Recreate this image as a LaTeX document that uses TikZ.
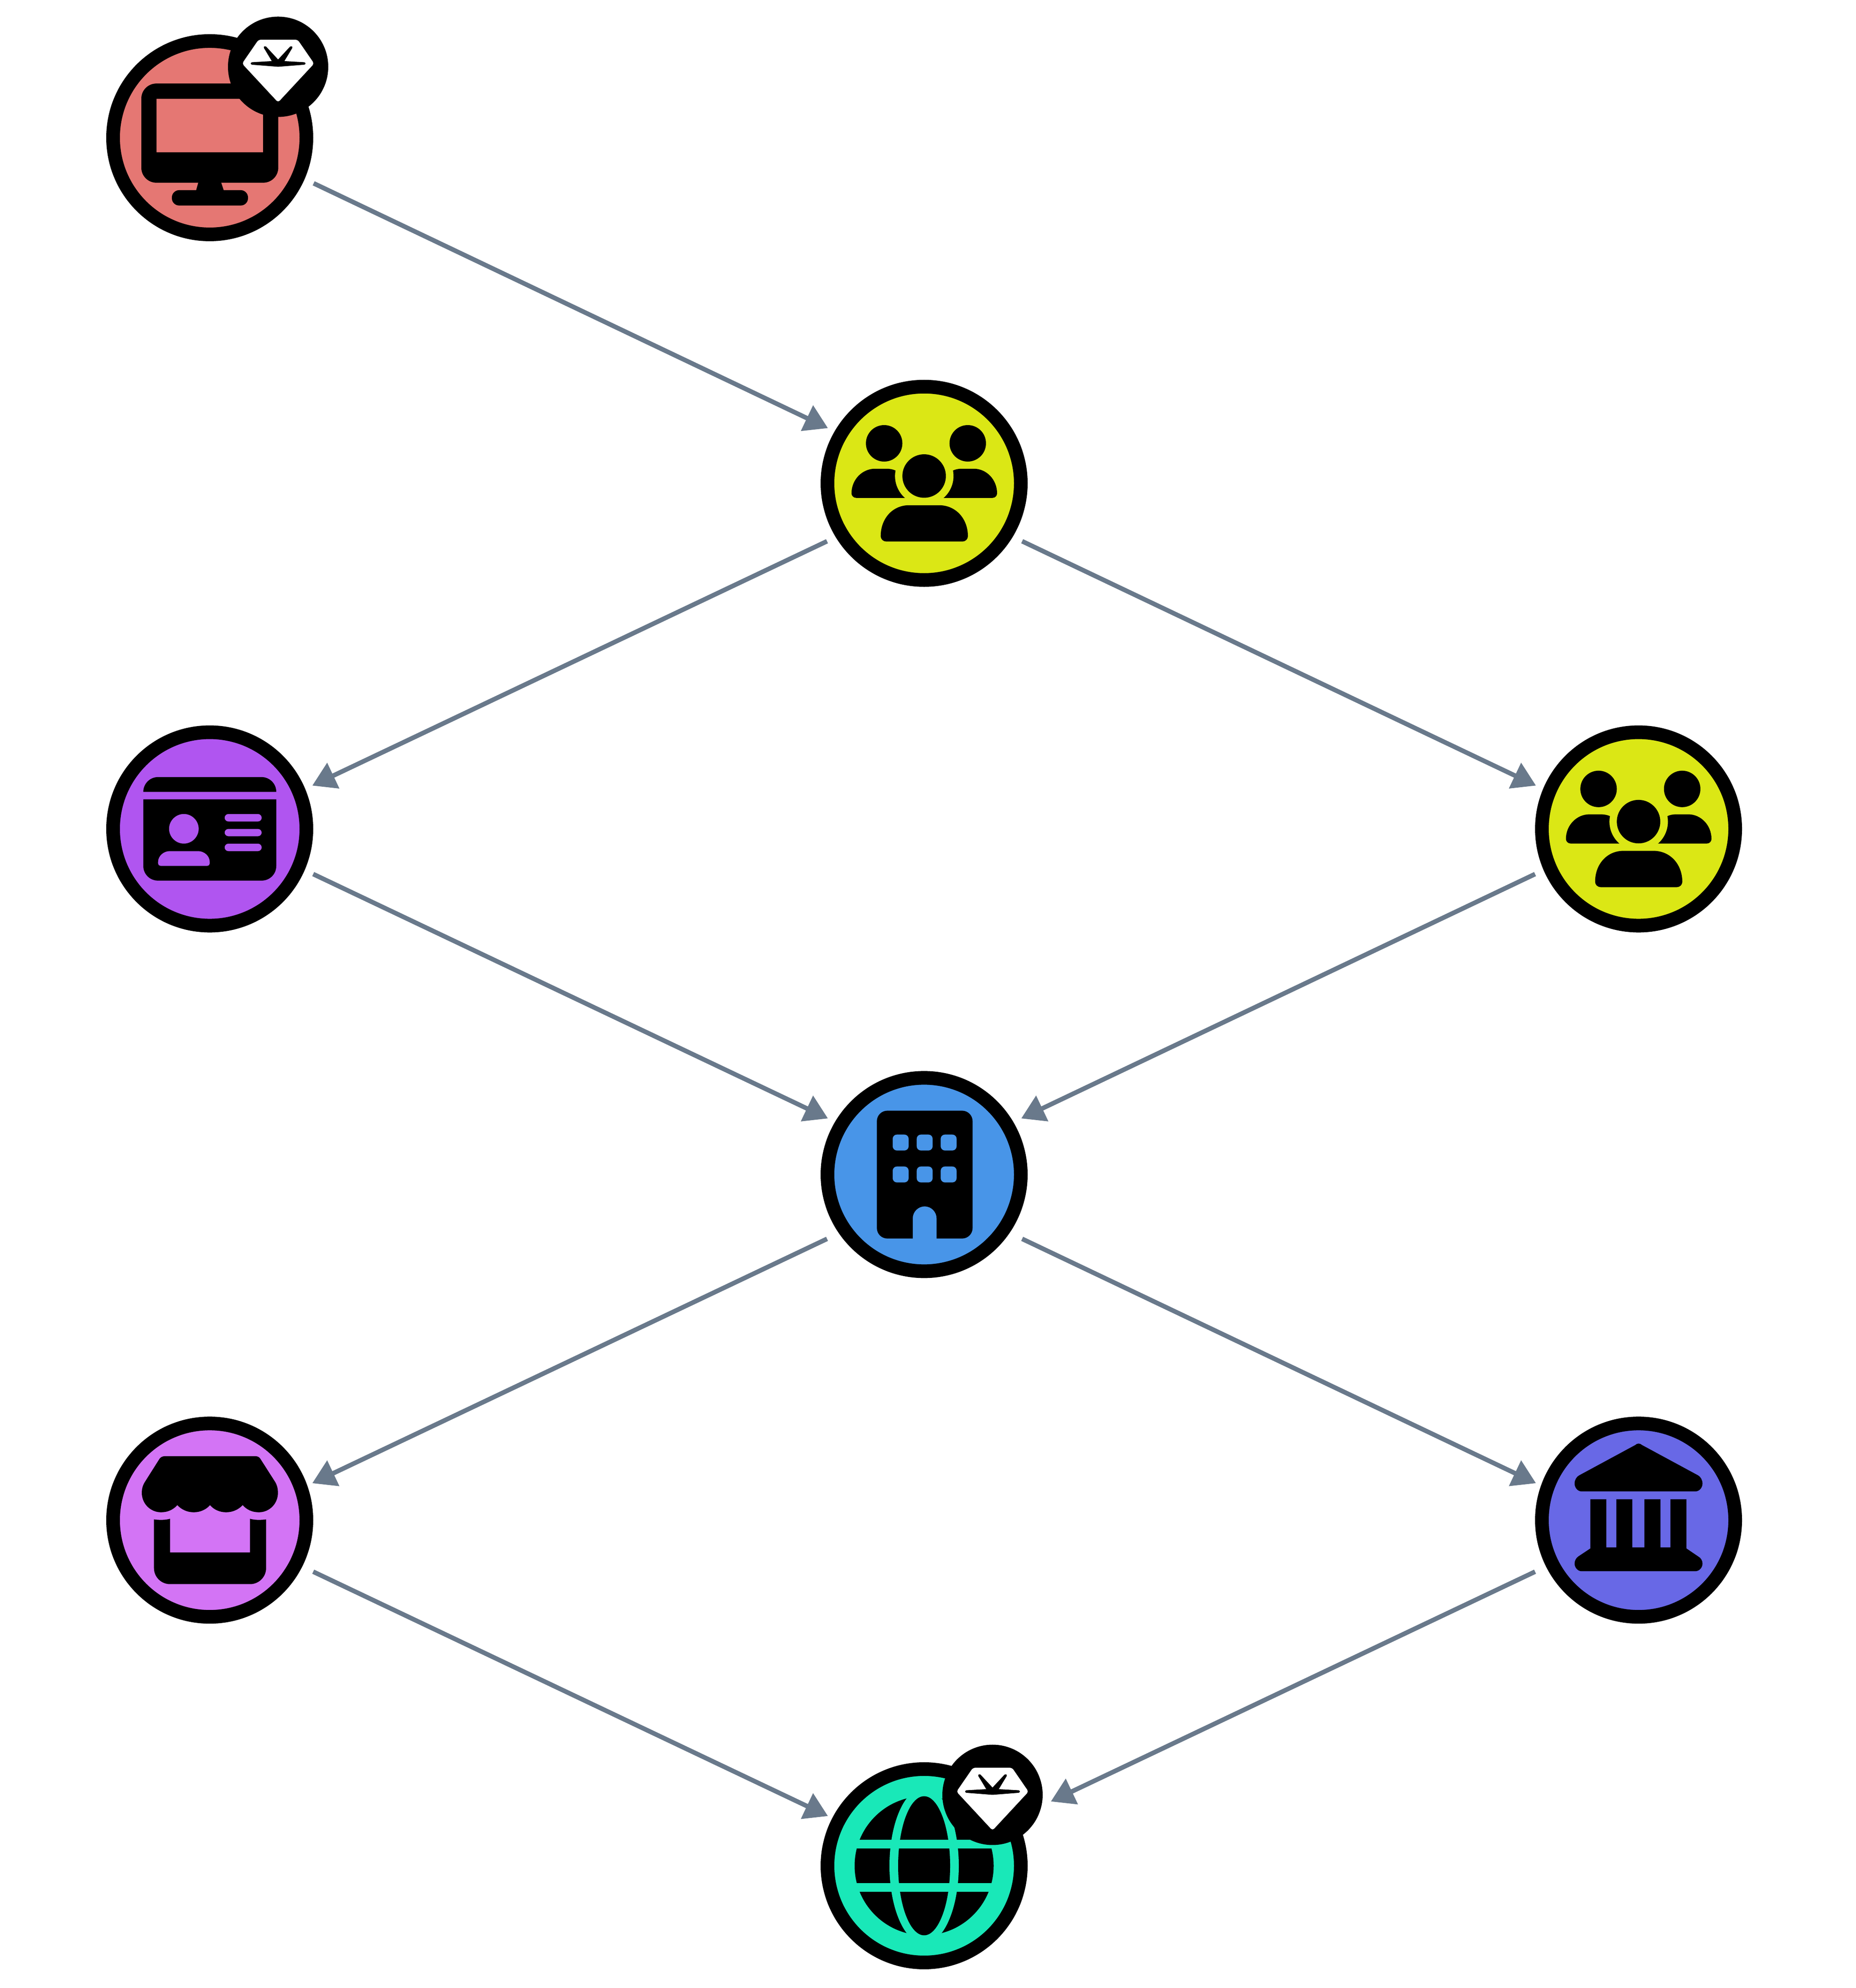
\documentclass[tikz,border=0pt]{standalone}
\usepackage{tikz}
\usetikzlibrary{arrows.meta,positioning}
\definecolor{monitorfill}{HTML}{E57773}
\definecolor{groupfill}{HTML}{DBE715}
\definecolor{cardfill}{HTML}{B055F0}
\definecolor{buildingfill}{HTML}{4895E8}
\definecolor{storefill}{HTML}{D374F5}
\definecolor{bankfill}{HTML}{6868E6}
\definecolor{globefill}{HTML}{19E8B8}
\definecolor{flowslate}{HTML}{69798B}
\tikzset
{
    station/.style = {circle, draw=black, line width=0.3cm, minimum size=4.24cm, inner sep=0pt},
    badge/.style   = {circle, fill=black, minimum size=2.2cm, inner sep=0pt},
    flow/.style    = {line width=0.1cm, color=flowslate, -{Triangle[length=0.51cm,width=0.6cm]}},
    gemicon/.pic = {
        \fill[white,rounded corners=0.05cm] (-0.43,0.593) -- (0.43,0.593) -- (0.79,0.07) -- (0,-0.78) -- (-0.79,0.07) -- cycle;
        \fill (0,0) -- (-0.57,0.045) .. controls (-0.61,0.05) and (-0.61,0.095) .. (-0.57,0.10) -- (-0.138,0.125) -- (-0.31,0.41)
            .. controls (-0.33,0.45) and (-0.28,0.46) .. (-0.26,0.44) -- (0,0.16) -- (0.26,0.44)
            .. controls (0.28,0.46) and (0.33,0.45) .. (0.31,0.41) -- (0.138,0.125) -- (0.57,0.10)
            .. controls (0.61,0.095) and (0.61,0.05) .. (0.57,0.045) -- cycle;
    },
    monitoricon/.pic = {
        \fill[even odd rule] [rounded corners=0.33cm] (-1.50,-0.987) rectangle (1.504,1.188)
            [sharp corners] (-1.167,-0.32) rectangle (1.17,0.852);
        \fill (-0.25,-0.98) -- (0.25,-0.98) -- (0.31,-1.16) -- (-0.30,-1.16) -- cycle;
        \fill[rounded corners=0.16cm] (-0.83,-1.487) rectangle (0.84,-1.15);
    },
    groupicon/.pic = {
        \fill (-0.877,0.877) circle (0.40);
        \fill (0.957,0.877) circle (0.40);
        \fill (0,0.16) circle (0.477);
        \fill (-0.42,-0.32) -- (-1.49,-0.32) .. controls (-1.55,-0.32) and (-1.593,-0.27) .. (-1.593,-0.22)
            .. controls (-1.593,0.08) and (-1.36,0.32) .. (-1.077,0.32) -- (-0.827,0.32)
            .. controls (-0.75,0.32) and (-0.68,0.305) .. (-0.627,0.28) arc[start angle=169, end angle=229, radius=0.638] -- cycle;
        \fill (0.427,-0.32) -- (1.50,-0.32) .. controls (1.56,-0.32) and (1.60,-0.27) .. (1.60,-0.22)
            .. controls (1.60,0.08) and (1.37,0.32) .. (1.09,0.32) -- (0.823,0.32)
            .. controls (0.75,0.32) and (0.68,0.305) .. (0.633,0.28) arc[start angle=11, end angle=-49, radius=0.638] -- cycle;
        \fill (-0.83,-1.277) -- (0.84,-1.277) .. controls (0.91,-1.277) and (0.96,-1.22) .. (0.96,-1.16)
            .. controls (0.96,-0.78) and (0.70,-0.48) .. (0.323,-0.48) -- (-0.327,-0.48)
            .. controls (-0.70,-0.48) and (-0.953,-0.78) .. (-0.953,-1.16)
            .. controls (-0.953,-1.22) and (-0.90,-1.277) .. (-0.83,-1.277) -- cycle;
    },
    cardicon/.pic = {
        \fill (-1.457,0.813) -- (1.46,0.813) arc[start angle=0, end angle=90, radius=0.324] -- (-1.133,1.137) arc[start angle=90, end angle=180, radius=0.324] -- cycle;
        \fill[even odd rule] (-1.457,0.65) -- (1.46,0.65) -- (1.46,-0.813) arc[start angle=0, end angle=-90, radius=0.32] -- (-1.137,-1.133) arc[start angle=270, end angle=180, radius=0.32] -- cycle
            (-0.567,0.003) circle (0.325)
            (-1.08,-0.81) -- (-0.05,-0.81) .. controls (-0.02,-0.81) and (0,-0.79) .. (0,-0.76) -- (0,-0.72)
            .. controls (0,-0.59) and (-0.12,-0.487) .. (-0.25,-0.487) -- (-0.883,-0.487)
            .. controls (-1.01,-0.487) and (-1.133,-0.59) .. (-1.133,-0.72) -- (-1.133,-0.76)
            .. controls (-1.133,-0.79) and (-1.11,-0.81) .. (-1.08,-0.81) -- cycle
            [rounded corners=0.08cm] (0.327,0.163) rectangle (1.14,0.327)
            (0.327,-0.16) rectangle (1.14,0)
            (0.327,-0.487) rectangle (1.14,-0.323);
    },
    buildingicon/.pic = {
        \fill[even odd rule] (-0.25,-1.403) -- (-0.807,-1.403) arc[start angle=270, end angle=180, radius=0.23] -- (-1.037,1.17)
            arc[start angle=180, end angle=90, radius=0.23] -- (0.833,1.40) arc[start angle=90, end angle=0, radius=0.23]
            -- (1.063,-1.173) arc[start angle=0, end angle=-90, radius=0.23] -- (0.273,-1.403) -- (0.273,-0.96)
            arc[start angle=0, end angle=180, radius=0.2615] -- cycle
            [rounded corners=0.09cm]
            (-0.69,0.527) rectangle (-0.34,0.877) (-0.163,0.527) rectangle (0.187,0.877) (0.363,0.527) rectangle (0.713,0.877)
            (-0.69,-0.173) rectangle (-0.34,0.177) (-0.163,-0.173) rectangle (0.187,0.177) (0.363,-0.173) rectangle (0.713,0.177);
    },
    storeicon/.pic = {
        \fill (-0.983,1.403) -- (1.00,1.403) .. controls (1.05,1.403) and (1.09,1.38) .. (1.11,1.347) -- (1.44,0.83)
            .. controls (1.48,0.76) and (1.497,0.68) .. (1.497,0.603) .. controls (1.497,0.36) and (1.31,0.173) .. (1.077,0.173)
            .. controls (0.93,0.173) and (0.81,0.23) .. (0.723,0.33) .. controls (0.63,0.23) and (0.50,0.173) .. (0.36,0.173)
            .. controls (0.22,0.173) and (0.09,0.23) .. (0.007,0.33) .. controls (-0.08,0.23) and (-0.21,0.173) .. (-0.35,0.173)
            .. controls (-0.49,0.173) and (-0.62,0.23) .. (-0.71,0.33) .. controls (-0.80,0.23) and (-0.92,0.173) .. (-1.067,0.173)
            .. controls (-1.30,0.173) and (-1.49,0.36) .. (-1.49,0.603) .. controls (-1.49,0.68) and (-1.47,0.76) .. (-1.427,0.83)
            -- (-1.10,1.347) .. controls (-1.08,1.38) and (-1.03,1.403) .. (-0.983,1.403) -- cycle;
        \fill (-1.223,0.017) .. controls (-1.11,0) and (-0.98,0) .. (-0.87,0.03) -- (-0.87,-0.707) -- (0.883,-0.707) -- (0.883,0.03)
            .. controls (0.99,0) and (1.12,0) .. (1.237,0.017) -- (1.237,-1.05) arc[start angle=0, end angle=-90, radius=0.353]
            -- (-0.87,-1.403) arc[start angle=270, end angle=180, radius=0.353] -- cycle;
    },
    bankicon/.pic = {
        \fill (-1.247,0.63) -- (1.243,0.63) .. controls (1.34,0.63) and (1.403,0.72) .. (1.403,0.803) .. controls (1.403,0.88) and (1.36,0.95) .. (1.31,0.98)
            -- (0.077,1.647) .. controls (0.03,1.69) and (-0.03,1.69) .. (-0.073,1.647) -- (-1.307,0.98)
            .. controls (-1.36,0.95) and (-1.403,0.88) .. (-1.403,0.803) .. controls (-1.403,0.72) and (-1.34,0.63) .. (-1.247,0.63) -- cycle;
        \fill (-1.247,-1.12) -- (1.243,-1.12) .. controls (1.34,-1.12) and (1.403,-1.03) .. (1.403,-0.953) .. controls (1.403,-0.89) and (1.37,-0.83) .. (1.31,-0.797)
            -- (1.05,-0.62) -- (1.05,0.457) -- (0.697,0.457) -- (0.697,-0.597) -- (0.48,-0.597) -- (0.48,0.457) -- (0.127,0.457) -- (0.127,-0.597)
            -- (-0.137,-0.597) -- (-0.137,0.457) -- (-0.487,0.457) -- (-0.487,-0.597) -- (-0.707,-0.597) -- (-0.707,0.457) -- (-1.057,0.457) -- (-1.057,-0.62)
            -- (-1.323,-0.797) .. controls (-1.37,-0.83) and (-1.403,-0.89) .. (-1.403,-0.953) .. controls (-1.403,-1.03) and (-1.34,-1.12) .. (-1.247,-1.12) -- cycle;
    },
    globeicon/.pic = {
        \fill (0,0) circle (1.525);
        \fill[globefill] (0,0) ellipse (0.76 and 1.71);
        \fill (0,0) ellipse (0.57 and 1.525);
        \fill[globefill] (-1.7,0.379) rectangle (1.7,0.568);
        \fill[globefill] (-1.7,-0.572) rectangle (1.7,-0.382);
    }
}

\begin{document}
\begin{tikzpicture}
\useasboundingbox (0,0) rectangle (40.70,43.59);
\newcommand\xShift{15.67}
\newcommand\yShift{7.578}
\node(mon) [station,fill=monitorfill] at (4.60,40.57) {};
\node(grpa) [station,fill=groupfill] at ([shift=({\xShift,-\yShift})]mon) {};
\node(card) [station,fill=cardfill] at ([shift=({-\xShift,-\yShift})]grpa) {};
\node(grpb) [station,fill=groupfill] at ([shift=({\xShift,-\yShift})]grpa) {};
\node(bld) [station,fill=buildingfill] at ([shift=({\xShift,-\yShift})]card) {};
\node(store) [station,fill=storefill] at ([shift=({-\xShift,-\yShift})]bld) {};
\node(bank) [station,fill=bankfill] at ([shift=({\xShift,-\yShift})]bld) {};
\node(globe) [station,fill=globefill] at ([shift=({\xShift,-\yShift})]store) {};
\pic at (mon) {monitoricon};
\pic at (grpa) {groupicon};
\pic at (grpb) {groupicon};
\pic at (card) {cardicon};
\pic at (bld) {buildingicon};
\pic at (store) {storeicon};
\pic at (bank) {bankicon};
\pic at (globe) {globeicon};
\node(monb) [badge] at ([shift=({1.50,1.555})]mon) {};
\node(globeb) [badge] at ([shift=({1.50,1.555})]globe) {};
\pic at (monb) {gemicon};
\pic at (globeb) {gemicon};
\draw[flow] ([shift=({2.28,-1.00})]mon.center) -- ([shift=({-2.11,1.21})]grpa.center);
\draw[flow] ([shift=({-2.13,-1.27})]grpa.center) -- ([shift=({2.25,0.95})]card.center);
\draw[flow] ([shift=({2.15,-1.27})]grpa.center) -- ([shift=({-2.25,0.95})]grpb.center);
\draw[flow] ([shift=({2.27,-0.99})]card.center) -- ([shift=({-2.11,1.23})]bld.center);
\draw[flow] ([shift=({-2.27,-0.99})]grpb.center) -- ([shift=({2.13,1.23})]bld.center);
\draw[flow] ([shift=({-2.13,-1.41})]bld.center) -- ([shift=({2.25,0.81})]store.center);
\draw[flow] ([shift=({2.15,-1.41})]bld.center) -- ([shift=({-2.25,0.81})]bank.center);
\draw[flow] ([shift=({2.27,-1.13})]store.center) -- ([shift=({-2.11,1.09})]globe.center);
\draw[flow] ([shift=({-2.27,-1.13})]bank.center) -- ([shift=({2.78,1.41})]globe.center);
\end{tikzpicture}
\end{document}
